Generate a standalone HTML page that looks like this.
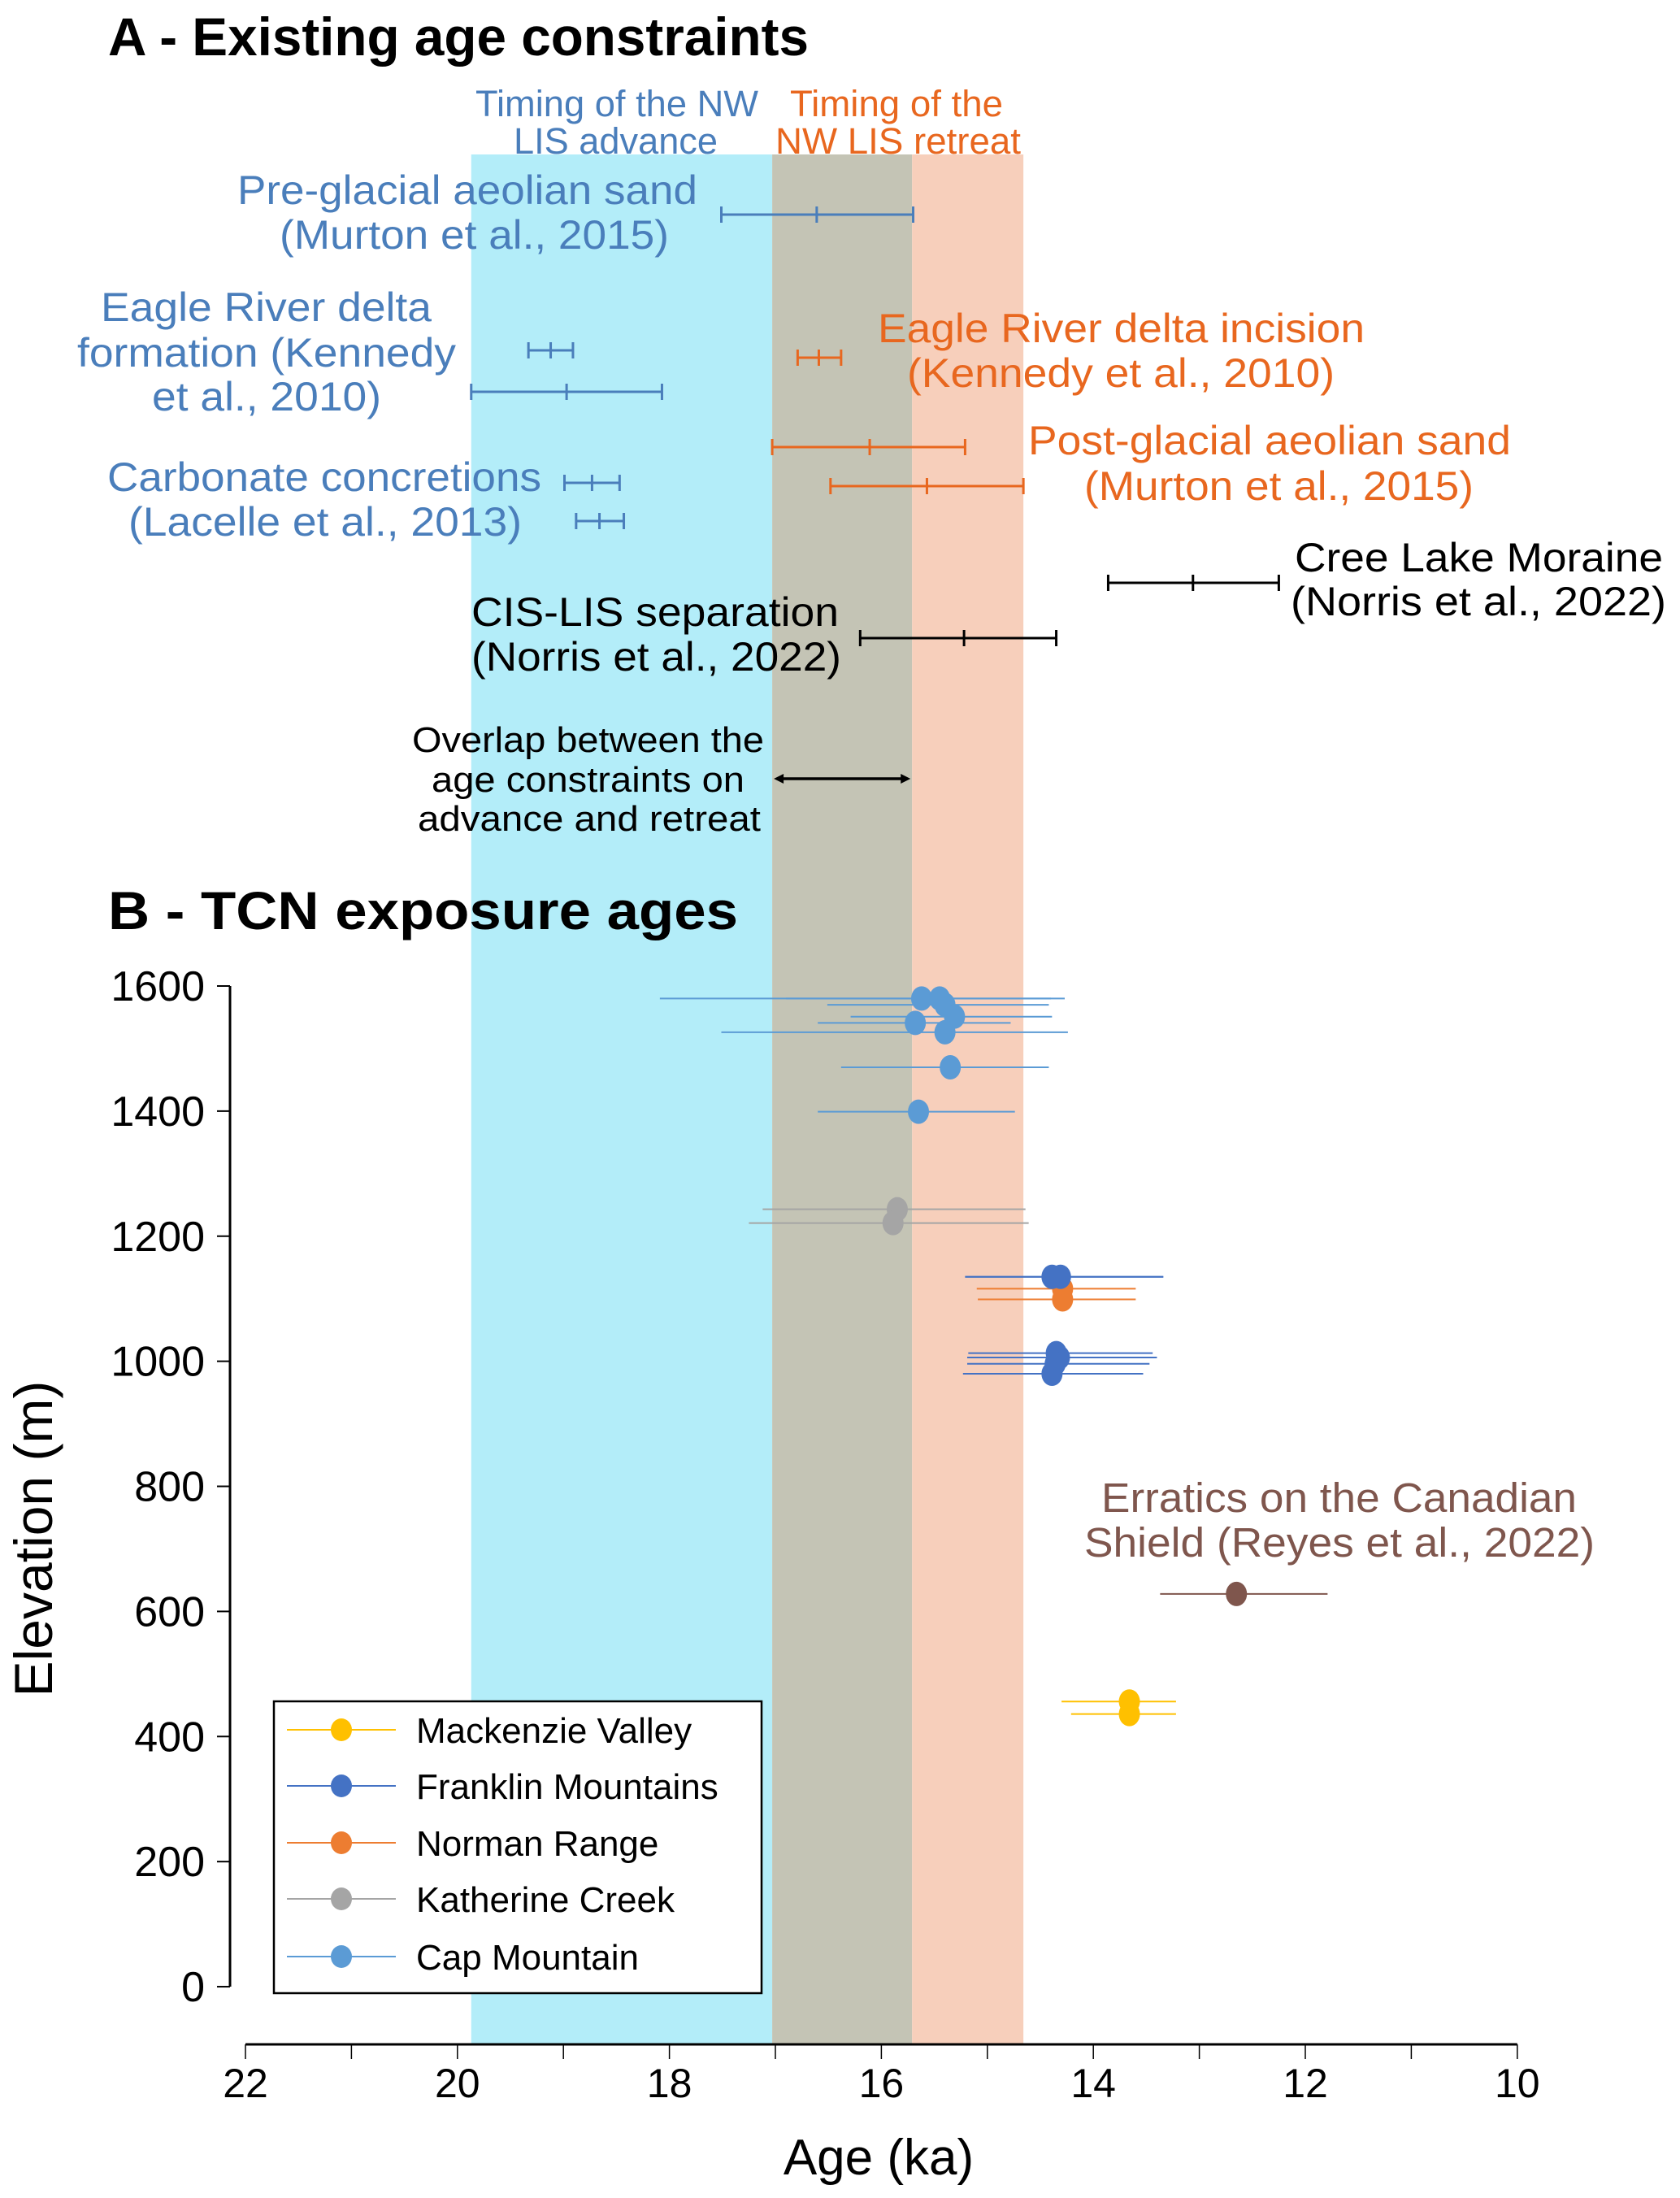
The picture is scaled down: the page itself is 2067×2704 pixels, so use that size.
<!DOCTYPE html>
<html><head><meta charset="utf-8"><title>Age constraints and TCN exposure ages</title>
<style>
html,body{margin:0;padding:0;background:#fff;}
svg{display:block;font-family:"Liberation Sans",Arial,sans-serif;}
</style></head>
<body>
<svg id="chart" width="2067" height="2704" viewBox="0 0 2067 2704" xmlns="http://www.w3.org/2000/svg">
<rect x="0" y="0" width="2067" height="2704" fill="#fff"/>
<g id="bands"></g>
<g id="panelA"></g>
<g id="panelB"></g>
<g id="axes"></g>

<text x="133" y="68" font-size="66" font-weight="bold" textLength="862" lengthAdjust="spacingAndGlyphs">A - Existing age constraints</text>
<text x="133" y="1143" font-size="66" font-weight="bold" textLength="775" lengthAdjust="spacingAndGlyphs">B - TCN exposure ages</text>

<g fill="#4a7ebb" font-size="45">
<text x="585" y="143" textLength="348" lengthAdjust="spacingAndGlyphs">Timing of the NW</text>
<text x="632" y="189" textLength="251" lengthAdjust="spacingAndGlyphs">LIS advance</text>
</g>
<g fill="#e8671f" font-size="45">
<text x="972" y="143" textLength="262" lengthAdjust="spacingAndGlyphs">Timing of the</text>
<text x="954" y="189" textLength="302" lengthAdjust="spacingAndGlyphs">NW LIS retreat</text>
</g>

<g fill="#4a7ebb" font-size="50">
<text x="292" y="251" textLength="566" lengthAdjust="spacingAndGlyphs">Pre-glacial aeolian sand</text>
<text x="344" y="306" textLength="479" lengthAdjust="spacingAndGlyphs">(Murton et al., 2015)</text>
<text x="124" y="395" textLength="407" lengthAdjust="spacingAndGlyphs">Eagle River delta</text>
<text x="95" y="451" textLength="466" lengthAdjust="spacingAndGlyphs">formation (Kennedy</text>
<text x="187" y="505" textLength="282" lengthAdjust="spacingAndGlyphs">et al., 2010)</text>
<text x="132" y="604" textLength="534" lengthAdjust="spacingAndGlyphs">Carbonate concretions</text>
<text x="158" y="659" textLength="484" lengthAdjust="spacingAndGlyphs">(Lacelle et al., 2013)</text>
</g>
<g fill="#e8671f" font-size="50">
<text x="1080" y="421" textLength="599" lengthAdjust="spacingAndGlyphs">Eagle River delta incision</text>
<text x="1116" y="476" textLength="526" lengthAdjust="spacingAndGlyphs">(Kennedy et al., 2010)</text>
<text x="1265" y="559" textLength="594" lengthAdjust="spacingAndGlyphs">Post-glacial aeolian sand</text>
<text x="1334" y="615" textLength="479" lengthAdjust="spacingAndGlyphs">(Murton et al., 2015)</text>
</g>
<g fill="#000" font-size="50">
<text x="1593" y="703" textLength="453" lengthAdjust="spacingAndGlyphs">Cree Lake Moraine</text>
<text x="1588" y="757" textLength="462" lengthAdjust="spacingAndGlyphs">(Norris et al., 2022)</text>
<text x="580" y="770" textLength="452" lengthAdjust="spacingAndGlyphs">CIS-LIS separation</text>
<text x="580" y="825" textLength="455" lengthAdjust="spacingAndGlyphs">(Norris et al., 2022)</text>
</g>
<g fill="#000" font-size="44">
<text x="507" y="925" textLength="433" lengthAdjust="spacingAndGlyphs">Overlap between the</text>
<text x="531" y="974" textLength="385" lengthAdjust="spacingAndGlyphs">age constraints on</text>
<text x="514" y="1022" textLength="422" lengthAdjust="spacingAndGlyphs">advance and retreat</text>
</g>
<g fill="#7f564d" font-size="51">
<text x="1355" y="1860" textLength="585" lengthAdjust="spacingAndGlyphs">Erratics on the Canadian</text>
<text x="1334" y="1915" textLength="628" lengthAdjust="spacingAndGlyphs">Shield (Reyes et al., 2022)</text>
</g>

<text x="1081" y="2675" font-size="62" text-anchor="middle">Age (ka)</text>
<text transform="translate(64,1893) rotate(-90)" font-size="66" text-anchor="middle">Elevation (m)</text>

<g id="legend">
<rect x="337" y="2093" width="600" height="359" fill="#fff" stroke="#000" stroke-width="2.5"/>
</g>
</svg>
<script>
// ---------- data ----------
const xTicks = [22, 20, 18, 16, 14, 12, 10];
const yTicks = [0, 200, 400, 600, 800, 1000, 1200, 1400, 1600];
// bands (ka)
const bandStarts = [19.87, 17.03, 15.71];
const bandEnds = [17.03, 15.71, 14.66];
// panel A constraints
const aNames = ['preglacial', 'delta-form-1', 'delta-form-2', 'delta-incision', 'postglacial-1', 'postglacial-2', 'carbonate-1', 'carbonate-2', 'cree-lake', 'cis-lis'];
const aOld = [17.51, 19.33, 19.87, 16.79, 17.03, 16.48, 18.99, 18.88, 13.86, 16.20];
const aMid = [16.61, 19.12, 18.97, 16.59, 16.11, 15.57, 18.73, 18.66, 13.06, 15.22];
const aYoung = [15.70, 18.91, 18.07, 16.38, 15.21, 14.66, 18.47, 18.43, 12.25, 14.35];
const aRowY = [264, 431, 482, 440, 550, 598, 594, 641, 717, 785];
const aColor = ['#4a7ebb', '#4a7ebb', '#4a7ebb', '#e8671f', '#e8671f', '#e8671f', '#4a7ebb', '#4a7ebb', '#000', '#000'];
const overlapAges = [17.03, 15.71];

// panel B series
const seriesNames = ['Mackenzie Valley', 'Franklin Mountains', 'Norman Range', 'Katherine Creek', 'Cap Mountain'];
const seriesColors = ['#ffc000', '#4472c4', '#ed7d31', '#a5a5a5', '#5b9bd5'];
const capAge = [15.62, 15.45, 15.40, 15.31, 15.68, 15.40, 15.35, 15.65];
const capElev = [1580, 1580, 1570, 1551, 1541, 1526, 1470, 1399];
const capOld = [18.09, 16.90, 16.51, 16.29, 16.60, 17.51, 16.38, 16.60];
const capYoung = [14.27, 14.40, 14.42, 14.39, 14.78, 14.24, 14.42, 14.74];
const katAge = [15.85, 15.89];
const katElev = [1243, 1221];
const katOld = [17.12, 17.25];
const katYoung = [14.64, 14.61];
const franAge = [14.39, 14.31, 14.35, 14.32, 14.36, 14.39];
const franElev = [1135, 1135, 1013, 1006, 996, 980];
const franOld = [15.21, 15.21, 15.18, 15.19, 15.19, 15.23];
const franYoung = [13.34, 13.34, 13.44, 13.40, 13.47, 13.53];
const normAge = [14.29, 14.29];
const normElev = [1116, 1099];
const normOld = [15.10, 15.09];
const normYoung = [13.60, 13.60];
const mackAge = [13.66, 13.66];
const mackElev = [456, 436];
const mackOld = [14.30, 14.21];
const mackYoung = [13.22, 13.22];
const errAge = [12.65];
const errElev = [628];
const errOld = [13.37];
const errYoung = [11.79];

// ---------- scales ----------
const X0 = 302, XPK = 130.4;
function xScale(a) { return X0 + (22 - a) * XPK; }
const Y0 = 1213, YPM = 0.7694;
function yScale(e) { return Y0 + (1600 - e) * YPM; }
const NS = 'http://www.w3.org/2000/svg';
function mk(tag, parent, attrs) {
  const el = document.createElementNS(NS, tag);
  for (const k in attrs) el.setAttribute(k, attrs[k]);
  parent.appendChild(el);
  return el;
}
const bands = document.getElementById('bands');
const bandFill = ['#b3edf9', '#c4c4b5', '#f7cfbb'];
const bandNames = ['advance-band', 'overlap-band', 'retreat-band'];
for (let i = 0; i < bandStarts.length; i++) {
  const r = mk('rect', bands, { x: xScale(bandStarts[i]), y: 190, width: xScale(bandEnds[i]) - xScale(bandStarts[i]), height: 2515 - 190, fill: bandFill[i] });
  
  
}

// panel A
const pa = document.getElementById('panelA');
for (let i = 0; i < aNames.length; i++) {
  const g = mk('g', pa, { stroke: aColor[i], 'stroke-width': 3 });
  
  
  const y = aRowY[i];
  const x1 = xScale(aOld[i]), x2 = xScale(aYoung[i]), xm = xScale(aMid[i]);
  mk('line', g, { x1: x1, x2: x2, y1: y, y2: y });
  mk('line', g, { x1: x1, x2: x1, y1: y - 10, y2: y + 10 });
  mk('line', g, { x1: x2, x2: x2, y1: y - 10, y2: y + 10 });
  mk('line', g, { x1: xm, x2: xm, y1: y - 10, y2: y + 10 });
}
const ov = mk('g', pa, {});


const oa = xScale(overlapAges[0]) + 2, ob = xScale(overlapAges[1]) - 2, oy = 958;
mk('line', ov, { x1: oa + 8, x2: ob - 8, y1: oy, y2: oy, stroke: '#000', 'stroke-width': 3.5 });
mk('polygon', ov, { points: `${oa},${oy} ${oa + 12},${oy - 6} ${oa + 12},${oy + 6}`, fill: '#000' });
mk('polygon', ov, { points: `${ob},${oy} ${ob - 12},${oy - 6} ${ob - 12},${oy + 6}`, fill: '#000' });

// panel B
const pb = document.getElementById('panelB');
function drawSeries(name, color, ages, elevs, olds, youngs) {
  const g = mk('g', pb, {});
  
  
  for (let i = 0; i < ages.length; i++) {
    const y = yScale(elevs[i]);
    const l = mk('line', g, { x1: xScale(olds[i]), x2: xScale(youngs[i]), y1: y, y2: y, stroke: color, 'stroke-width': 2 });
    
    
  }
  for (let i = 0; i < ages.length; i++) {
    const e = mk('ellipse', g, { cx: xScale(ages[i]), cy: yScale(elevs[i]), rx: 13, ry: 15, fill: color });
    
    
  }
}
drawSeries('katherine-creek', '#a5a5a5', katAge, katElev, katOld, katYoung);
drawSeries('cap-mountain', '#5b9bd5', capAge, capElev, capOld, capYoung);
drawSeries('norman-range', '#ed7d31', normAge, normElev, normOld, normYoung);
drawSeries('franklin-mountains', '#4472c4', franAge, franElev, franOld, franYoung);
drawSeries('mackenzie-valley', '#ffc000', mackAge, mackElev, mackOld, mackYoung);
drawSeries('erratics', '#7f564d', errAge, errElev, errOld, errYoung);

// axes
const ax = document.getElementById('axes');
const xa = mk('line', ax, { x1: X0, x2: xScale(10), y1: 2515, y2: 2515, stroke: '#000', 'stroke-width': 3 });


for (let v = 22; v >= 10; v--) {
  mk('line', ax, { x1: xScale(v), x2: xScale(v), y1: 2515, y2: 2533, stroke: '#000', 'stroke-width': 1.5 });
}
for (const v of xTicks) {
  const t = mk('text', ax, { x: xScale(v), y: 2580, 'font-size': 50, 'text-anchor': 'middle' });
  
  
  t.textContent = v;
}
const ya = mk('line', ax, { x1: 283, x2: 283, y1: yScale(1600), y2: yScale(0), stroke: '#000', 'stroke-width': 3 });


for (const v of yTicks) {
  mk('line', ax, { x1: 267, x2: 283, y1: yScale(v), y2: yScale(v), stroke: '#000', 'stroke-width': 2 });
  const t = mk('text', ax, { x: 252, y: yScale(v) + 18, 'font-size': 52, 'text-anchor': 'end' });
  
  
  t.textContent = v;
}

// legend
const lg = document.getElementById('legend');
const legendY = [2128, 2197, 2267, 2336, 2407];
for (let i = 0; i < seriesNames.length; i++) {
  const g = mk('g', lg, {});
  
  
  mk('line', g, { x1: 353, x2: 487, y1: legendY[i], y2: legendY[i], stroke: seriesColors[i], 'stroke-width': 2 });
  mk('ellipse', g, { cx: 420, cy: legendY[i], rx: 13, ry: 14, fill: seriesColors[i] });
  const t = mk('text', g, { x: 512, y: legendY[i] + 16, 'font-size': 44 });
  t.textContent = seriesNames[i];
}
</script>
</body></html>
